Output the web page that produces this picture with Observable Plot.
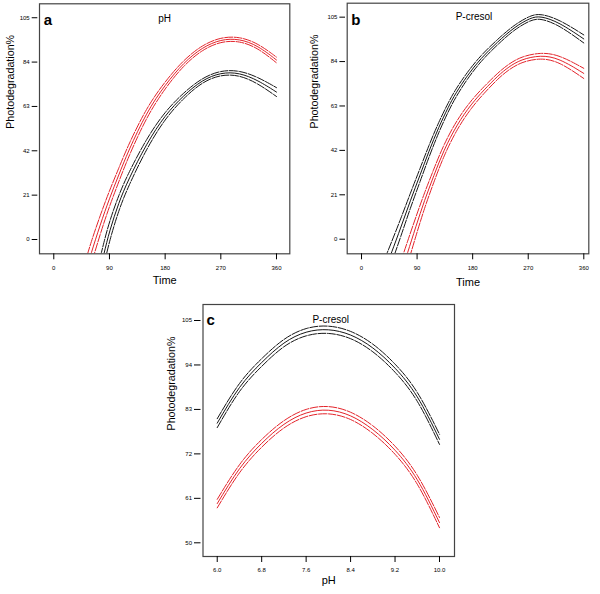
<!DOCTYPE html>
<html><head><meta charset="utf-8">
<script src="https://cdn.jsdelivr.net/npm/d3@7"></script>
<script src="https://cdn.jsdelivr.net/npm/@observablehq/plot@0.6"></script>
<style>
body{margin:0;background:#fff;}
#wrap{position:relative;width:600px;height:594px;font-family:"Liberation Sans",Arial,sans-serif;}
#wrap>div{position:absolute;}
</style></head><body><div id="wrap"><div id="pa" style="left:0;top:0"></div><div id="pb" style="left:300px;top:0"></div><div id="pc" style="left:140px;top:290px"></div></div>
<script>
// ---- tick values ----
const timeTicks = [0, 90, 180, 270, 360];
const abYTicks = [0, 21, 42, 63, 84, 105];
const cXTicks = [6.0, 6.8, 7.6, 8.4, 9.2, 10.0];
const cYTicks = [50, 61, 72, 83, 94, 105];

// ---- panel a (pH) ----
const aRedTime = [50, 60, 75, 90, 105, 120, 150, 180, 210, 240, 270, 300, 330, 360];
const aRedMid  = [-17, -6.8, 7, 19.5, 30.5, 41.6, 60.3, 73.3, 83.8, 91, 94.8, 95.1, 91.8, 85];
const aRedHalf = [5.6, 5.4, 4.4, 3.7, 3.2, 2.9, 2.2, 1.6, 1.3, 1.1, 1.0, 1.0, 1.1, 1.35];
const aBlackTime = [72, 81, 90, 105, 120, 150, 180, 210, 240, 270, 300, 330, 360];
const aBlackMid  = [-18, -6.8, 4, 17.5, 28, 45.5, 59, 68.3, 75.6, 79.1, 79.0, 75.4, 69.8];
const aBlackHalf = [5.8, 5.5, 4.6, 3.6, 3.1, 2.4, 1.7, 1.3, 1.0, 1.0, 1.1, 1.5, 2.1];

// ---- panel b (P-cresol) ----
const bBlackTime = [38, 48, 64, 79, 95, 109, 125, 141, 152, 171, 193, 220, 247, 274, 290, 320, 360];
const bBlackMid  = [-14.5, -6.8, 5.8, 18.2, 30.5, 41.5, 53, 62.8, 68.8, 77.3, 85.5, 93.2, 100.2, 104.8, 105.6, 102.6, 94.7];
const bBlackHalf = [5.5, 5, 4.2, 3.5, 3.1, 2.8, 2.4, 2.1, 1.9, 1.6, 1.4, 1.25, 1.15, 1.1, 1.1, 1.35, 1.9];
const bRedTime = [64, 74, 88, 102, 117, 133, 155, 178, 198, 222, 238, 258, 290, 320, 360];
const bRedMid  = [-16, -7, 6, 18.4, 30, 42, 54.5, 64, 70.5, 77.6, 81.4, 85, 87.1, 85.6, 78.4];
const bRedHalf = [5.8, 5.5, 4.5, 3.6, 3.1, 2.7, 2.2, 1.8, 1.6, 1.4, 1.35, 1.3, 1.3, 1.6, 2.4];

// ---- panel c (P-cresol vs pH) ----
const cPH = [6.0, 6.4, 6.8, 7.2, 7.6, 8.0, 8.4, 8.8, 9.2, 9.6, 10.0];
const cBlackMid  = [79.6, 88.4, 94.6, 99.4, 102.1, 102.7, 101.4, 98.2, 93.2, 86.1, 75.6];
const cBlackHalf = [1.1, 1.0, 0.95, 0.9, 0.9, 0.9, 0.9, 0.95, 1.0, 1.1, 1.25];
const cRedMid  = [59.7, 68.3, 74.6, 79.3, 82.1, 82.8, 81.4, 78.0, 72.9, 65.6, 55.0];
const cRedHalf = [1.05, 1.0, 0.95, 0.9, 0.9, 0.9, 0.9, 0.95, 1.0, 1.1, 1.27];

const RED = "#e3232a", BLACK = "#161616";
const FONT = "'Liberation Sans', Arial, sans-serif";

function seriesMarks(xs, mid, half, color, curve) {
  const rows = xs.map((x, i) => ({x, mid: mid[i], up: mid[i] + half[i], lo: mid[i] - half[i]}));
  const common = {x: "x", stroke: color, strokeWidth: 1, curve, clip: true};
  return [
    Plot.line(rows, {...common, y: "up", strokeDasharray: "8,1.5"}),
    Plot.line(rows, {...common, y: "lo", strokeDasharray: "8,1.5"}),
    Plot.line(rows, {...common, y: "mid"})
  ];
}

function panel(o) {
  return Plot.plot({
    width: o.width, height: o.height,
    marginLeft: o.m[0], marginRight: o.m[1], marginTop: o.m[2], marginBottom: o.m[3],
    style: {fontFamily: FONT, background: "transparent", color: "#000", overflow: "visible"},
    x: {domain: o.xDomain},
    y: {domain: o.yDomain},
    marks: [
      ...o.series.flatMap(s => seriesMarks(s[0], s[1], s[2], s[3], o.curve)),
      Plot.frame({stroke: "#444", strokeWidth: 1.2}),
      Plot.axisY(o.yTicks, {tickSize: o.yTickSize, tickPadding: 2.5, dx: -o.yGap, fontSize: 6, label: null}),
      Plot.axisX(o.xTicks, {tickSize: 6, tickPadding: 5.5, fontSize: 6, label: null, tickFormat: o.xFormat}),
      Plot.text([o.yLabel], {frameAnchor: "left", dx: -o.yLabelOff, rotate: -90, fontSize: 10.7, fill: "#000"}),
      Plot.text([o.xLabel], {frameAnchor: "bottom", dy: o.xLabelOff, fontSize: 11, fill: "#000"}),
      Plot.text([o.title], {frameAnchor: "top", dy: o.titleDy, dx: o.titleDx, fontSize: 10, fill: "#000"}),
      Plot.text([o.letter], {frameAnchor: "top-left", textAnchor: "start", dx: o.letterDx, dy: o.letterDy, fontSize: 15, fontWeight: "bold", fill: "#000"})
    ]
  });
}

document.getElementById("pa").append(panel({
  width: 300, height: 300, m: [39, 10.7, 3.3, 46.7],
  xDomain: [-23.1, 381.5], yDomain: [-6.77, 111.6], curve: "basis",
  xTicks: timeTicks, yTicks: abYTicks, xFormat: d3.format("d"),
  yTickSize: 5.6, yGap: 1.7,
  series: [[aRedTime, aRedMid, aRedHalf, RED], [aBlackTime, aBlackMid, aBlackHalf, BLACK]],
  yLabel: "Photodegradation%", yLabelOff: 29, xLabel: "Time", xLabelOff: 29.7,
  title: "pH", titleDy: 10.7, titleDx: 0, letter: "a", letterDx: 4.3, letterDy: 10.7
}));

document.getElementById("pb").append(panel({
  width: 300, height: 300, m: [46.7, 11.7, 2.7, 46.7],
  xDomain: [-23.2, 368.1], yDomain: [-6.9, 111.6], curve: "basis",
  xTicks: timeTicks, yTicks: abYTicks, xFormat: d3.format("d"),
  yTickSize: 5.6, yGap: 1.7,
  series: [[bBlackTime, bBlackMid, bBlackHalf, BLACK], [bRedTime, bRedMid, bRedHalf, RED]],
  yLabel: "Photodegradation%", yLabelOff: 32.7, xLabel: "Time", xLabelOff: 31.7,
  title: "P-cresol", titleDy: 10, titleDx: 6, letter: "b", letterDx: 4, letterDy: 11.3
}));

document.getElementById("pc").append(panel({
  width: 330, height: 304, m: [62.5, 16, 14, 38],
  xDomain: [5.744, 10.27], yDomain: [46.61, 108.96], curve: "natural",
  xTicks: cXTicks, yTicks: cYTicks, xFormat: d3.format(".1f"),
  yTickSize: 6.5, yGap: 2,
  series: [[cPH, cBlackMid, cBlackHalf, BLACK], [cPH, cRedMid, cRedHalf, RED]],
  yLabel: "Photodegradation%", yLabelOff: 31, xLabel: "pH", xLabelOff: 27.3,
  title: "P-cresol", titleDy: 11, titleDx: 2, letter: "c", letterDx: 3.5, letterDy: 10
}));
</script>
</body></html>
